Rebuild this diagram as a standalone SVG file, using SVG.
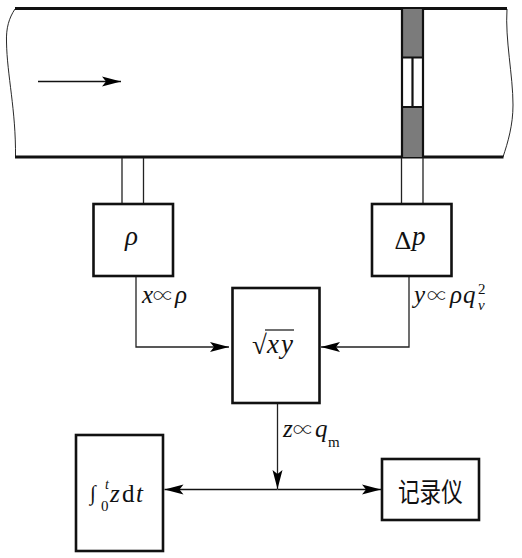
<svg xmlns="http://www.w3.org/2000/svg" width="522" height="558" viewBox="0 0 522 558">
<style>
.box{fill:#fff;stroke:#111;stroke-width:2.6}
.pipe{fill:none;stroke:#111;stroke-width:2.8}
.edge{fill:none;stroke:#222;stroke-width:1.3}
.thin{fill:none;stroke:#111;stroke-width:.9}
.m{font-family:"Liberation Serif","Noto Serif CJK SC",serif;font-style:italic;fill:#111}
.r{font-style:normal}
.l{font-size:25px}
.s{font-size:15px}
</style>
<defs>
<marker id="a" markerUnits="userSpaceOnUse" markerWidth="20" markerHeight="12" refX="19" refY="6" orient="auto"><path d="M0 1 L19 6 L0 11 L4 6 Z" fill="#000"/></marker>
</defs>
<rect width="522" height="558" fill="#fff"/>
<g id="pipe">
<path class="thin" d="M15 9 C9 18 6 28 6.500 42 C7 75 16 110 15.500 157"/>
<path class="thin" d="M507 9 C505 40 513 75 513 105 C513 125 508 142 503 157"/>
<path class="pipe" d="M15 8.500 H507 M15 157 H503.500"/>
</g>
<g id="orifice">
<rect x="402" y="9" width="21" height="148" fill="#7b7b7b"/>
<rect x="402" y="57.500" width="21" height="49.500" fill="#fff"/>
<path d="M402 8 V158 M423 8 V158 M412.500 57 V107 M402 57.500 H423 M402 107 H423" fill="none" stroke="#111" stroke-width="2.200"/>
</g>
<g id="connectors">
<path class="edge" d="M38 81.500 H121" marker-end="url(#a)" style="stroke:#111"/>
<path class="edge" d="M122 158 V203 M143.500 158 V203 M401.500 158 V203 M423 158 V203"/>
<path class="edge" d="M136 277 V347 H229" marker-end="url(#a)"/>
<path class="edge" d="M409 277 V347 H321" marker-end="url(#a)"/>
<path class="edge" d="M277.500 404 V489" marker-end="url(#a)"/>
<path class="edge" d="M277.500 489.500 H164.500" marker-end="url(#a)" style="stroke:#111"/>
<path class="edge" d="M277.500 489.500 H381" marker-end="url(#a)" style="stroke:#111"/>
</g>
<g id="density">
<rect class="box" x="93.500" y="204" width="79.500" height="72"/>
<text class="m" x="125" y="245" font-size="27">ρ</text>
</g>
<g id="pressure">
<rect class="box" x="372" y="204" width="79.500" height="72"/>
<text class="m r" x="394.500" y="249" font-size="26">Δ</text>
<text class="m" x="412" y="245" font-size="27">p</text>
</g>
<g id="root">
<rect class="box" x="232.500" y="288" width="87" height="115"/>
<text class="m r" x="252" y="354" font-size="27">√</text>
<path d="M265 330 H294" stroke="#111" stroke-width="1.200"/>
<text class="m" x="267" y="353" font-size="27">x</text>
<text class="m" x="281" y="353" font-size="27">y</text>
</g>
<g id="integrator">
<rect class="box" x="76" y="435" width="87" height="116"/>
<text class="m" x="90" y="500" font-size="21">∫</text>
<text class="m" x="105" y="489" font-size="14">t</text>
<text class="m r" x="101" y="511" font-size="15">0</text>
<text class="m" x="110" y="502" font-size="25">z</text>
<text class="m r" x="122" y="502" font-size="25">d</text>
<text class="m" x="136" y="502" font-size="25">t</text>
</g>
<g id="recorder">
<rect class="box" x="382" y="459" width="97" height="61"/>
<text transform="translate(398 502) scale(.8 1)" font-size="27" font-family="'Noto Sans CJK SC','Liberation Sans',sans-serif" fill="#111">记录仪</text>
</g>
<g id="labels">
<text class="m l" x="142" y="303">x</text>
<text class="m r" x="153" y="303" font-size="19">∝</text>
<text class="m l" x="175" y="303">ρ</text>
<text class="m l" x="414" y="303">y</text>
<text class="m r" x="427" y="303" font-size="19">∝</text>
<text class="m l" x="450" y="303">ρ</text>
<text class="m l" x="463" y="303">q</text>
<text class="m r s" x="478" y="294">2</text>
<text class="m s" x="478" y="310">v</text>
<text class="m l" x="283" y="437">z</text>
<text class="m r" x="293" y="437" font-size="19">∝</text>
<text class="m l" x="315" y="437">q</text>
<text class="m r s" x="328" y="447">m</text>
</g>
</svg>
